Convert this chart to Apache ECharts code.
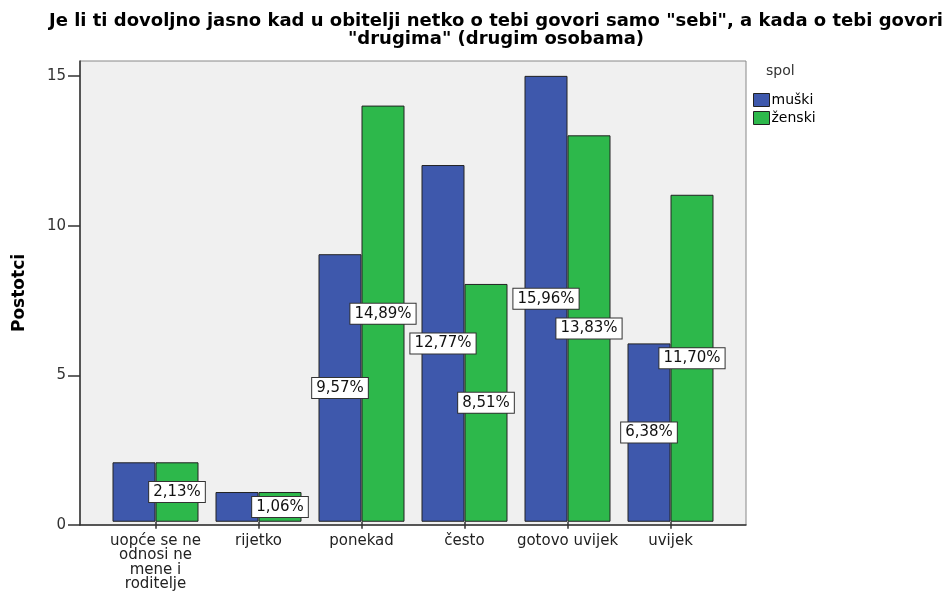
<!DOCTYPE html>
<html><head><meta charset="utf-8">
<script src="https://cdn.jsdelivr.net/npm/echarts@6/dist/echarts.min.js"></script>
<style>html,body{margin:0;padding:0;background:#fff}#c{width:949px;height:592px}</style>
</head><body><div id="c"></div>
<script>
const titleText = 'Je li ti dovoljno jasno kad u obitelji netko o tebi govori samo "sebi", a kada o tebi govori\n"drugima" (drugim osobama)';
const categories = ['uopće se ne\nodnosi ne\nmene i\nroditelje', 'rijetko', 'ponekad', 'često', 'gotovo uvijek', 'uvijek'];
const seriesNames = ['muški', 'ženski'];
const muskiCounts = [2, 1, 9, 12, 15, 6];
const zenskiCounts = [2, 1, 14, 8, 13, 11];
const muskiPct = ['2,13%', '1,06%', '9,57%', '12,77%', '15,96%', '6,38%'];
const zenskiPct = ['2,13%', '1,06%', '14,89%', '8,51%', '13,83%', '11,70%'];
const muskiLabelShown = [false, false, true, true, true, true];
const zenskiLabelShown = [true, true, true, true, true, true];
const yTicks = [0, 5, 10, 15];

const FONT = '"DejaVu Sans", Verdana, sans-serif';
const labelStyle = {
  show: true, position: 'inside', color: '#111', fontFamily: FONT, fontSize: 15,
  backgroundColor: '#fff', borderColor: '#333', borderWidth: 1, padding: [3, 4, 2, 4]
};
function mk(counts, pct, shown) {
  return counts.map((v, i) => ({ value: v, label: { show: shown[i], formatter: pct[i] } }));
}

const chart = echarts.init(document.getElementById('c'));
chart.setOption({
  animation: false,
  title: {
    text: titleText, left: 491, top: 7, textAlign: 'center',
    textStyle: { fontFamily: FONT, fontWeight: 'bold', fontSize: 18, color: '#000', lineHeight: 18 }
  },
  legend: {
    orient: 'vertical', left: 748, top: 88, itemWidth: 16, itemHeight: 13, itemGap: 4, icon: 'rect',
    data: seriesNames,
    textStyle: { fontFamily: FONT, fontSize: 14, color: '#000', padding: [0, 0, 0, -3] },
    itemStyle: { borderColor: '#222', borderWidth: 1 }
  },
  graphic: [{ type: 'text', left: 766, top: 64, style: { text: 'spol', font: '14px ' + FONT, fill: '#333' } }],
  grid: [
    { left: 80, right: 203, top: 61, bottom: 67, show: true, backgroundColor: '#F0F0F0', borderColor: '#888', borderWidth: 1 },
    { left: 104, right: 227, top: 61, bottom: 67 }
  ],
  xAxis: [
    { gridIndex: 0, type: 'value', min: 0, max: 1, axisLine: { show: true, lineStyle: { color: '#333', width: 1.5 } },
      axisTick: { show: false }, axisLabel: { show: false }, splitLine: { show: false } },
    { gridIndex: 1, type: 'category', data: categories, axisLine: { show: false },
      axisTick: { show: true, alignWithLabel: true, length: 7, lineStyle: { color: '#333', width: 1.5 } },
      axisLabel: { fontFamily: FONT, fontSize: 15, color: '#222', lineHeight: 14.5, margin: 12, interval: 0 } }
  ],
  yAxis: [
    { gridIndex: 0, type: 'value', min: 0, max: 15.5, name: 'Postotci', nameLocation: 'middle', nameGap: 52,
      nameTextStyle: { fontFamily: FONT, fontWeight: 'bold', fontSize: 17, color: '#000' },
      axisLine: { show: true, lineStyle: { color: '#333', width: 1.5 } },
      axisTick: { show: true, length: 12, customValues: yTicks, lineStyle: { color: '#333', width: 1.5 } },
      axisLabel: { customValues: yTicks, fontFamily: FONT, fontSize: 15, color: '#333', margin: 14 },
      splitLine: { show: false } },
    { gridIndex: 1, type: 'value', min: 0, max: 15.5, show: false, splitLine: { show: false } }
  ],
  series: [
    { name: seriesNames[0], type: 'bar', xAxisIndex: 1, yAxisIndex: 1, barWidth: 43, barGap: '0%',
      itemStyle: { color: '#3E58AC', borderColor: '#222', borderWidth: 1 },
      label: labelStyle, data: mk(muskiCounts, muskiPct, muskiLabelShown) },
    { name: seriesNames[1], type: 'bar', xAxisIndex: 1, yAxisIndex: 1, barWidth: 43, barGap: '0%',
      itemStyle: { color: '#2DB84B', borderColor: '#222', borderWidth: 1 },
      label: labelStyle, data: mk(zenskiCounts, zenskiPct, zenskiLabelShown) }
  ]
});
</script></body></html>
